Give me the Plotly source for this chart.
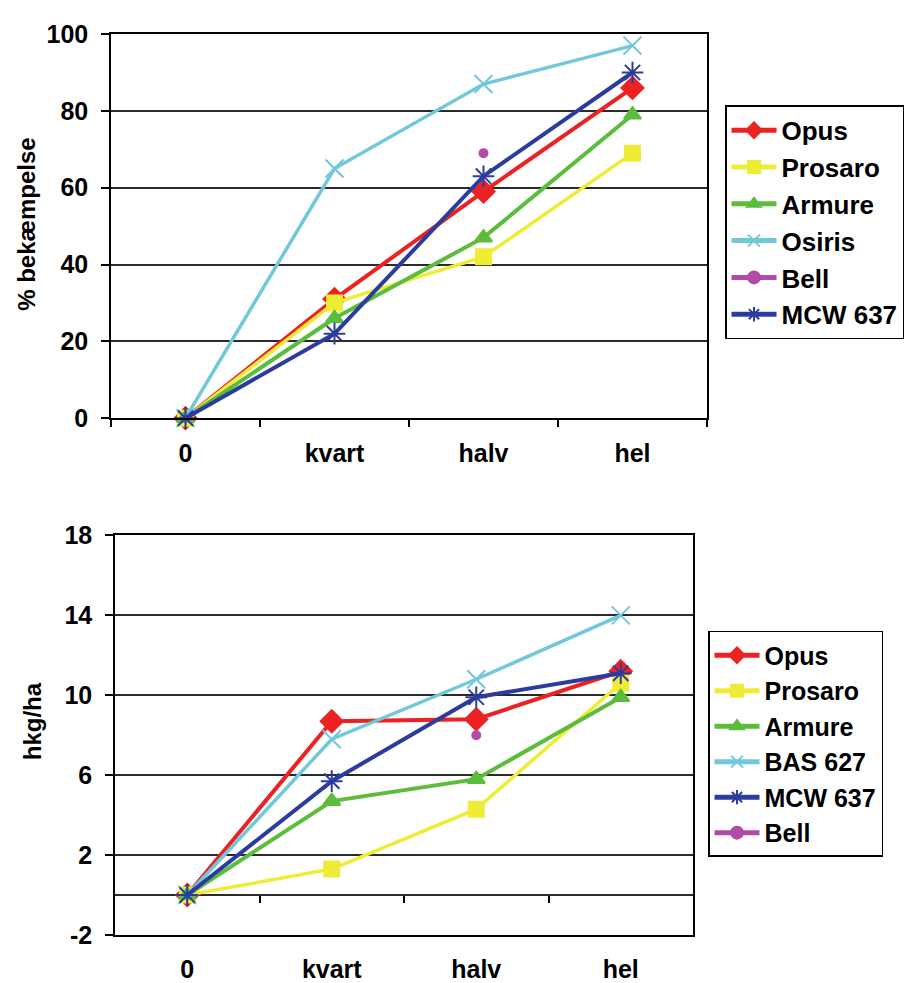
import plotly.graph_objects as go

categories = ["0", "kvart", "halv", "hel"]

# Top chart: % bekæmpelse
top_names = ["Opus", "Prosaro", "Armure", "Osiris", "Bell", "MCW 637"]
opus_top = [0, 31, 59, 86]
prosaro_top = [0, 30, 42, 69]
armure_top = [0, 26, 47, 79]
osiris_top = [0, 65, 87, 97]
bell_top = [None, None, 69, None]
mcw_top = [0, 22, 63, 90]

# Bottom chart: hkg/ha
bottom_names = ["Opus", "Prosaro", "Armure", "BAS 627", "MCW 637", "Bell"]
opus_bot = [0, 8.7, 8.8, 11.2]
prosaro_bot = [0, 1.3, 4.3, 10.6]
armure_bot = [0, 4.7, 5.8, 9.9]
bas_bot = [0, 7.8, 10.8, 14.0]
mcw_bot = [0, 5.7, 9.9, 11.1]
bell_bot = [None, None, 8.0, None]

top_ticks = [0, 20, 40, 60, 80, 100]
bottom_ticks = [-2, 2, 6, 10, 14, 18]
bottom_ticktext = ["-2", "2", "6", "10", "14", "18"]

RED = "#ec2222"
YEL = "#eeec34"
GRN = "#5cbc3c"
CYA = "#70c8da"
MAG = "#b04ca8"
BLU = "#2c3c9e"

style = {
    "Opus": dict(color=RED, symbol="diamond", size=17, width=4),
    "Prosaro": dict(color=YEL, symbol="square", size=15, width=3.5),
    "Armure": dict(color=GRN, symbol="triangle-up", size=15, width=4),
    "Osiris": dict(color=CYA, symbol="x-thin-open", size=18, width=3.5),
    "BAS 627": dict(color=CYA, symbol="x-thin-open", size=18, width=3.5),
    "Bell": dict(color=MAG, symbol="circle", size=8, width=1.5),
    "MCW 637": dict(color=BLU, symbol="asterisk-open", size=18, width=4),
}

FONT = "Liberation Sans, Arial, sans-serif"

fig = go.Figure()

def add(name, ys, xa, ya, legend, grp):
    s = style[name]
    fig.add_trace(go.Scatter(
        x=categories, y=ys, name=name, mode="lines+markers",
        xaxis=xa, yaxis=ya, legend=legend, legendgroup=grp, cliponaxis=False,
        line=dict(color=s["color"], width=s["width"]),
        marker=dict(color=s["color"], symbol=s["symbol"], size=s["size"],
                    line=dict(color=s["color"], width=2)),
        connectgaps=False,
    ))

for n, ys in zip(top_names, [opus_top, prosaro_top, armure_top, osiris_top, bell_top, mcw_top]):
    add(n, ys, "x", "y", "legend", "t_" + n)
for n, ys in zip(bottom_names, [opus_bot, prosaro_bot, armure_bot, bas_bot, mcw_bot, bell_bot]):
    add(n, ys, "x2", "y2", "legend2", "b_" + n)

# helper trace for the tick axis on the zero line of the bottom chart
fig.add_trace(go.Scatter(x=[None], y=[None], xaxis="x3", yaxis="y2",
                         showlegend=False, hoverinfo="skip"))

W, H = 908, 983
top_dom_x = [111 / W, 707 / W]
top_dom_y = [1 - 416 / H, 1 - 20.7 / H]
bot_dom_x = [115 / W, 693 / W]
bot_dom_y = [1 - 948 / H, 1 - 536.7 / H]
zero_pos = bot_dom_y[0] + (0 - (-2)) / 20 * (bot_dom_y[1] - bot_dom_y[0])

tickfont = dict(family=FONT, size=25, color="black", weight="bold")
axcommon = dict(showline=True, linecolor="black", linewidth=1.5, mirror=True,
                tickcolor="black", tickwidth=1.5, tickfont=tickfont)

fig.update_layout(
    width=W, height=H, margin=dict(l=0, r=0, t=0, b=0),
    paper_bgcolor="white", plot_bgcolor="white",
    font=dict(family=FONT, color="black"),
    hovermode=False,
    xaxis=dict(domain=top_dom_x, anchor="y", type="category",
               categoryorder="array", categoryarray=categories,
               range=[-0.5, 3.5], ticks="outside", tickson="boundaries",
               ticklen=7, ticklabelstandoff=12, showgrid=False, **axcommon),
    yaxis=dict(domain=top_dom_y, anchor="x", range=[0, 100], tickvals=top_ticks,
               ticks="outside", ticklen=8, ticklabelstandoff=8,
               showgrid=True, gridcolor="#2a2a2a", gridwidth=1.5,
               zeroline=False, **axcommon),
    xaxis2=dict(domain=bot_dom_x, anchor="y2", type="category",
                categoryorder="array", categoryarray=categories,
                range=[-0.5, 3.5], ticks="", ticklabelstandoff=11,
                showgrid=False, **axcommon),
    yaxis2=dict(domain=bot_dom_y, anchor="x2", range=[-2, 18], tickvals=bottom_ticks,
                ticktext=bottom_ticktext,
                ticks="outside", ticklen=8, ticklabelstandoff=8,
                showgrid=True, gridcolor="#2a2a2a", gridwidth=1.5,
                zeroline=True, zerolinecolor="#2a2a2a", zerolinewidth=1.5,
                **axcommon),
    xaxis3=dict(domain=bot_dom_x, overlaying="x2", anchor="free", position=zero_pos,
                side="bottom", range=[-0.5, 3.5], tickvals=[0.5, 1.5, 2.5],
                ticks="outside", ticklen=7, tickcolor="black", tickwidth=1.5,
                showticklabels=False, showline=False, showgrid=False, zeroline=False),
    legend=dict(x=725 / W, y=1 - 94 / H, xanchor="left", yanchor="top",
                bordercolor="black", borderwidth=1.5, bgcolor="white",
                itemsizing="constant", itemwidth=45, tracegroupgap=0,
                font=dict(family=FONT, size=26, color="black", weight="bold")),
    legend2=dict(x=708 / W, y=1 - 635 / H, xanchor="left", yanchor="top",
                 bordercolor="black", borderwidth=1.5, bgcolor="white",
                 itemsizing="constant", itemwidth=45, tracegroupgap=0,
                 font=dict(family=FONT, size=25, color="black", weight="bold")),
    annotations=[
        dict(text="% bekæmpelse", textangle=-90, xref="paper", yref="paper",
             x=27 / W, y=1 - 217 / H, xanchor="center", yanchor="middle",
             showarrow=False,
             font=dict(family=FONT, size=24, color="black", weight="bold")),
        dict(text="hkg/ha", textangle=-90, xref="paper", yref="paper",
             x=32 / W, y=1 - 728 / H, xanchor="center", yanchor="middle",
             showarrow=False,
             font=dict(family=FONT, size=24, color="black", weight="bold")),
    ],
)

fig.write_html("out.html")
